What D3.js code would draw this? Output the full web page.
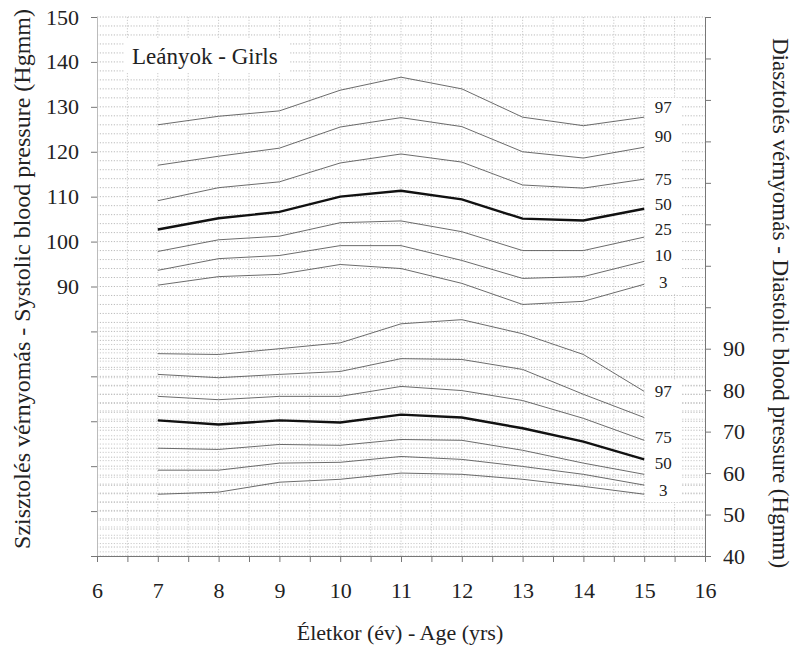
<!DOCTYPE html>
<html>
<head>
    <meta charset="utf-8">
    <title>Leányok - Girls blood pressure percentiles</title>
    <script src="https://d3js.org/d3.v7.min.js"></script>
    <style>
        body { margin: 0; background: #fff; }
    </style>
</head>
<body>
    <script>
        // ages on the x axis
        const ages = [7, 8, 9, 10, 11, 12, 13, 14, 15];
        const percentiles = [97, 90, 75, 50, 25, 10, 3];

        // systolic percentiles (left axis)
        const sys97 = [126, 127.9, 129.1, 133.7, 136.6, 134, 127.7, 125.8, 127.7];
        const sys90 = [117, 119, 120.8, 125.5, 127.6, 125.6, 120, 118.6, 121];
        const sys75 = [109.1, 112, 113.3, 117.5, 119.5, 117.7, 112.6, 111.9, 113.9];
        const sys50 = [102.7, 105.2, 106.6, 110, 111.3, 109.4, 105.1, 104.7, 107.3];
        const sys25 = [97.8, 100.4, 101.2, 104.2, 104.6, 102.2, 98, 98, 101];
        const sys10 = [93.6, 96.2, 96.9, 99.1, 99.1, 95.8, 91.8, 92.2, 95.6];
        const sys3  = [90.3, 92.2, 92.7, 94.9, 94, 90.7, 86, 86.7, 90.5];

        // diastolic percentiles (right axis)
        const dia97 = [88.8, 88.6, 90, 91.4, 96, 97, 93.6, 88.6, 79.7];
        const dia90 = [83.8, 83, 83.8, 84.5, 87.6, 87.4, 85, 79, 73.4];
        const dia75 = [78.5, 77.7, 78.5, 78.5, 80.9, 79.9, 77.5, 73.2, 67.9];
        const dia50 = [72.7, 71.7, 72.7, 72.2, 74.1, 73.4, 70.8, 67.6, 63.3];
        const dia25 = [66, 65.7, 66.9, 66.7, 68.1, 67.9, 65.5, 62.4, 59.7];
        const dia10 = [60.7, 60.7, 62.4, 62.6, 64, 63.3, 61.6, 59.7, 57.1];
        const dia3  = [54.9, 55.4, 57.8, 58.5, 60, 59.7, 58.5, 56.8, 54.9];

        // percentile labels beside the curves (value where each label sits)
        const sysLabels = ["97", "90", "75", "50", "25", "10", "3"];
        const sysLabelAt = [129.9, 123.5, 113.9, 108.4, 102.7, 96.9, 90.9];
        const diaLabels = ["97", "75", "50", "3"];
        const diaLabelAt = [79.9, 68.8, 62.4, 55.9];

        const xTicks = d3.range(6, 16.01, 0.5);
        const sysTicks = d3.range(30, 151, 10);
        const diaTicks = d3.range(40, 171, 10);

        const width = 796, height = 647;
        const m = { left: 97, right: 705, top: 17, bottom: 556 };
        const serif = "'Liberation Serif', 'DejaVu Serif', serif";

        const svg = d3.select("body").append("svg")
            .attr("width", width)
            .attr("height", height)
            .attr("font-family", serif);

        const x = d3.scaleLinear().domain([6, 16]).range([m.left, m.right]);
        const ySys = d3.scaleLinear().domain([30, 150]).range([m.bottom, m.top]);
        const yDia = d3.scaleLinear().domain([40, 170]).range([m.bottom, m.top]);

        // dotted grid
        const grid = svg.append("g").attr("stroke", "#aaa").attr("stroke-width", 0.8)
            .attr("stroke-dasharray", "1.2,1.6");
        grid.selectAll("line.h")
            .data(d3.range(30, 150.1, 2))
            .join("line")
            .attr("class", "h")
            .attr("x1", m.left).attr("x2", m.right)
            .attr("y1", d => ySys(d)).attr("y2", d => ySys(d));
        grid.selectAll("line.hd")
            .data(d3.range(41, 97, 2))
            .join("line")
            .attr("class", "hd")
            .attr("x1", m.left).attr("x2", m.right)
            .attr("y1", d => yDia(d)).attr("y2", d => yDia(d))
            .attr("stroke", "#bcbcbc");
        grid.selectAll("line.v")
            .data(xTicks.slice(1, -1))
            .join("line")
            .attr("class", "v")
            .attr("x1", d => x(d)).attr("x2", d => x(d))
            .attr("y1", m.top).attr("y2", m.bottom)
            .attr("stroke", "#bdbdbd");

        // white boxes behind labels
        svg.append("rect").attr("x", 125).attr("y", 38).attr("width", 165).attr("height", 34).attr("fill", "#fff");
        svg.append("rect").attr("x", x(15) + 1).attr("y", ySys(132)).attr("width", 36)
            .attr("height", ySys(88.5) - ySys(132)).attr("fill", "#fff");
        svg.append("rect").attr("x", x(15) + 1).attr("y", yDia(82.5)).attr("width", 36)
            .attr("height", yDia(53) - yDia(82.5)).attr("fill", "#fff");

        // axes
        const axisLeft = d3.axisLeft(ySys).tickValues(sysTicks)
            .tickFormat(d => d >= 90 ? d : "").tickSize(6).tickPadding(12);
        const axisRight = d3.axisRight(yDia).tickValues(diaTicks)
            .tickFormat(d => d <= 90 ? d : "").tickSize(6).tickPadding(12);
        const axisBottom = d3.axisBottom(x).tickValues(xTicks)
            .tickFormat(d => Number.isInteger(d) ? d : "").tickSize(6).tickPadding(20);

        function style(g) {
            g.attr("font-family", serif).attr("font-size", 22);
            g.select(".domain").attr("stroke", "#777");
            g.selectAll(".tick line").attr("stroke", "#777");
            g.selectAll(".tick text").attr("fill", "#222");
        }
        svg.append("g").attr("transform", `translate(${m.left},0)`).call(axisLeft).call(style)
            .select(".domain").attr("stroke", "#bbb");
        svg.append("g").attr("transform", `translate(${m.right},0)`).call(axisRight).call(style);
        svg.append("g").attr("transform", `translate(0,${m.bottom})`).call(axisBottom).call(style);

        // curves
        const sysSeries = [sys97, sys90, sys75, sys50, sys25, sys10, sys3];
        const diaSeries = [dia97, dia90, dia75, dia50, dia25, dia10, dia3];
        const lineSys = d3.line().x((d, i) => x(ages[i])).y(d => ySys(d));
        const lineDia = d3.line().x((d, i) => x(ages[i])).y(d => yDia(d));

        function drawCurves(series, line) {
            svg.append("g").selectAll("path")
                .data(series)
                .join("path")
                .attr("d", line)
                .attr("fill", "none")
                .attr("stroke", (d, i) => percentiles[i] === 50 ? "#111" : "#5a5a5a")
                .attr("stroke-width", (d, i) => percentiles[i] === 50 ? 2.4 : 0.9);
        }
        drawCurves(sysSeries, lineSys);
        drawCurves(diaSeries, lineDia);

        // percentile labels
        svg.append("g").selectAll("text")
            .data(sysLabels)
            .join("text")
            .attr("x", x(15) + 19)
            .attr("y", (d, i) => ySys(sysLabelAt[i]))
            .attr("dy", "0.35em")
            .attr("text-anchor", "middle")
            .attr("font-size", 17)
            .attr("fill", "#222")
            .text(d => d);
        svg.append("g").selectAll("text")
            .data(diaLabels)
            .join("text")
            .attr("x", x(15) + 19)
            .attr("y", (d, i) => yDia(diaLabelAt[i]))
            .attr("dy", "0.35em")
            .attr("text-anchor", "middle")
            .attr("font-size", 17)
            .attr("fill", "#222")
            .text(d => d);

        // titles
        svg.append("text").attr("x", 132).attr("y", 64).attr("font-size", 23).attr("fill", "#222")
            .text("Leányok - Girls");
        svg.append("text")
            .attr("transform", "translate(30,279) rotate(-90)")
            .attr("text-anchor", "middle")
            .attr("font-size", 24)
            .attr("fill", "#222")
            .text("Szisztolés vérnyomás - Systolic blood pressure (Hgmm)");
        svg.append("text")
            .attr("transform", "translate(773,303) rotate(90)")
            .attr("text-anchor", "middle")
            .attr("font-size", 23)
            .attr("fill", "#222")
            .text("Diasztolés vérnyomás - Diastolic blood pressure (Hgmm)");
        svg.append("text")
            .attr("x", 400).attr("y", 640)
            .attr("text-anchor", "middle")
            .attr("font-size", 22)
            .attr("fill", "#222")
            .text("Életkor (év) - Age (yrs)");
    </script>
</body>
</html>
